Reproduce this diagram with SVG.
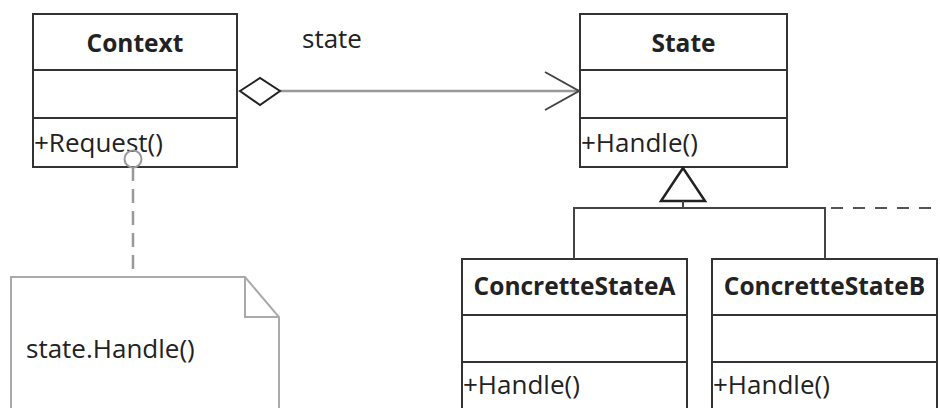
<svg xmlns="http://www.w3.org/2000/svg" width="940" height="408" viewBox="0 0 940 408">
<style>
.box{fill:#fff;stroke:#333;stroke-width:2}
.div{stroke:#333;stroke-width:2}
.t{font-family:"Open Sans","Noto Sans",sans-serif;font-size:26px;fill:#222}
.b{font-family:"Open Sans","Noto Sans",sans-serif;font-size:24.5px;font-weight:bold;fill:#222;text-anchor:middle}
.con{fill:none;stroke:#444;stroke-width:2}
</style>
<rect width="940" height="408" fill="#fff"/>
<g id="context">
<rect x="33" y="14" width="204" height="153" class="box"/>
<line x1="33" y1="70" x2="237" y2="70" class="div"/>
<line x1="33" y1="118" x2="237" y2="118" class="div"/>
<text x="135" y="52" class="b">Context</text>
<text x="34" y="152" class="t">+Request()</text>
</g>
<g id="state">
<rect x="580" y="14" width="207" height="153" class="box"/>
<line x1="580" y1="70" x2="787" y2="70" class="div"/>
<line x1="580" y1="118" x2="787" y2="118" class="div"/>
<text x="683.5" y="52" class="b">State</text>
<text x="581" y="152" class="t">+Handle()</text>
</g>
<g id="concreteStateA">
<rect x="462" y="259" width="225" height="160" class="box"/>
<line x1="462" y1="315" x2="687" y2="315" class="div"/>
<line x1="462" y1="362" x2="687" y2="362" class="div"/>
<text x="574.5" y="295" class="b">ConcretteStateA</text>
<text x="463" y="394" class="t">+Handle()</text>
</g>
<g id="concreteStateB">
<rect x="712" y="259" width="225" height="160" class="box"/>
<line x1="712" y1="315" x2="937" y2="315" class="div"/>
<line x1="712" y1="362" x2="937" y2="362" class="div"/>
<text x="824.5" y="295" class="b">ConcretteStateB</text>
<text x="713" y="394" class="t">+Handle()</text>
</g>
<g id="note">
<path d="M11,420 V277 H245 L279,317 V420" fill="#fff" stroke="#aaa" stroke-width="2"/>
<path d="M245,277 V317 H279" fill="none" stroke="#aaa" stroke-width="2"/>
<text x="26" y="358" class="t">state.Handle()</text>
</g>
<g id="connectors">
<line x1="280" y1="91" x2="579" y2="91" stroke="#999" stroke-width="2.5"/>
<polyline points="545,72 579,91 545,110" class="con" stroke="#222"/>
<polygon points="240,91 260,78 280,91 260,105" fill="#fff" stroke="#222" stroke-width="2"/>
<line x1="133" y1="167" x2="133" y2="277" stroke="#999" stroke-width="2.5" stroke-dasharray="14 8"/>
<circle cx="133" cy="159" r="8.5" fill="none" stroke="#999" stroke-width="2"/>
<polygon points="683,168 661,201 705,201" fill="#fff" stroke="#222" stroke-width="2.5"/>
<polyline points="574,259 574,208 825,208 825,259" class="con"/>
<line x1="683" y1="201" x2="683" y2="208" class="con"/>
<line x1="825" y1="208" x2="940" y2="208" stroke="#555" stroke-width="2" stroke-dasharray="12 10" stroke-dashoffset="-6"/>
</g>
<g id="label">
<text x="302" y="48" class="t">state</text>
</g>
</svg>
